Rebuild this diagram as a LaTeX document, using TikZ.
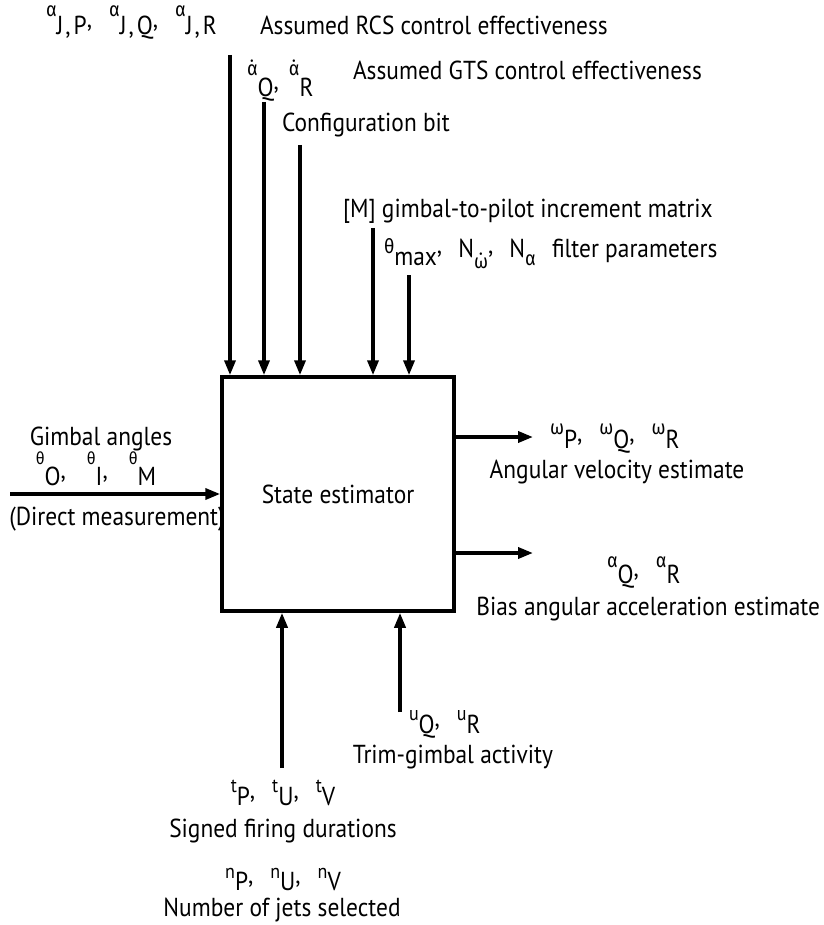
\documentclass[tikz,border=0pt]{standalone}
\usepackage{fontspec}
\setmainfont{PT Sans}[FakeStretch=0.9]
\newfontfamily\grk{Fira Sans}[FakeStretch=0.9]
\usetikzlibrary{arrows.meta}
\newcommand\gsm[1]{{\fontsize{20}{20}\selectfont\grk #1}}
\newcommand\gsn[1]{{\fontsize{17}{17}\selectfont\grk #1}}
\newcommand\lsm[1]{{\fontsize{20}{20}\selectfont #1}}
\newcommand\cmm{\raisebox{7pt}{,}\hspace{17pt}}
\newcommand\jc{\hspace{2pt},\hspace{3pt}}
\tikzset{
  lbl/.style={inner sep=0pt, outer sep=0pt, font=\fontsize{26}{30}\selectfont},
  arr/.style={line width=3.5pt, -{Triangle[length=15pt,width=11pt]}},
  estbox/.style={draw, line width=3.5pt, minimum width=232pt, minimum height=234pt, inner sep=0pt, font=\fontsize{26}{30}\selectfont}
}
\begin{document}
\begin{tikzpicture}[x=1pt,y=-1pt]
\useasboundingbox (0,0) rectangle (823,925);
% box
\node[estbox] (est) at (338,494) {State estimator};
% top labels
\node[lbl, anchor=base west] (r1s) at (46,35) {\raisebox{18pt}{\gsm{α}}J\jc P\cmm\raisebox{18pt}{\gsm{α}}J\jc Q\cmm\raisebox{18pt}{\gsm{α}}J\jc R};
\node[lbl, anchor=base west] (r1t) at (260,35) {Assumed RCS control effectiveness};
\node[lbl, anchor=base west] (r2s) at (247,97) {\raisebox{21pt}{\gsm{α^^^^0307}}Q\raisebox{7pt}{,}\hspace{10pt}\raisebox{21pt}{\gsm{α^^^^0307}}R};
\node[lbl, anchor=base west] (r2t) at (353,80) {Assumed GTS control effectiveness};
\node[lbl, anchor=base west] (r3) at (282,132) {Configuration bit};
\node[lbl, anchor=base west] (r4) at (343,218) {[M] gimbal-to-pilot increment matrix};
\node[lbl, anchor=base west] (r5s) at (384,257) {\raisebox{4pt}{\gsm{θ}}\raisebox{-8pt}{max}\raisebox{4pt}{,}\hspace{16pt}N\raisebox{-11pt}{\gsm{ω^^^^0307}}\raisebox{4pt}{,}\hspace{16pt}N\raisebox{-8pt}{\gsm{α}}};
\node[lbl, anchor=base west] (r5t) at (552,257) {filter parameters};
% left labels
\node[lbl, anchor=base] (l1) at (101,445) {Gimbal angles};
\node[lbl, anchor=base] (l2) at (96,485) {\raisebox{21pt}{\gsn{θ}}O\raisebox{7pt}{,}\hspace{21pt}\raisebox{21pt}{\gsn{θ}}I\raisebox{7pt}{,}\hspace{21pt}\raisebox{21pt}{\gsn{θ}}M};
\node[lbl, anchor=base] (l3) at (117,525) {(Direct measurement)};
% right labels
\node[lbl, anchor=base west] (o1s) at (550,448) {\raisebox{14pt}{\gsm{ω}}P\cmm\raisebox{14pt}{\gsm{ω}}Q\cmm\raisebox{14pt}{\gsm{ω}}R};
\node[lbl, anchor=base] (o1t) at (617,478) {Angular velocity estimate};
\node[lbl, anchor=base west] (o2s) at (607,583) {\raisebox{16pt}{\gsm{α}}Q\cmm\raisebox{16pt}{\gsm{α}}R};
\node[lbl, anchor=base east] (o2t) at (820,615) {Bias angular acceleration estimate};
% bottom labels
\node[lbl, anchor=base west] (b1s) at (409,733) {\raisebox{13pt}{\lsm{u}}Q\cmm\raisebox{13pt}{\lsm{u}}R};
\node[lbl, anchor=base] (b1t) at (453,763) {Trim-gimbal activity};
\node[lbl, anchor=base] (b2s) at (283,805) {\raisebox{13pt}{\lsm{t}}P\cmm\raisebox{13pt}{\lsm{t}}U\cmm\raisebox{13pt}{\lsm{t}}V};
\node[lbl, anchor=base] (b2t) at (283,837) {Signed firing durations};
\node[lbl, anchor=base] (b3s) at (283,890) {\raisebox{12pt}{\lsm{n}}P\cmm\raisebox{12pt}{\lsm{n}}U\cmm\raisebox{12pt}{\lsm{n}}V};
\node[lbl, anchor=base] (b3t) at (282,916) {Number of jets selected};
% arrow start points
\coordinate (a1) at (230,55);
\coordinate (a2) at (264,102);
\coordinate (a3) at (300,145);
\coordinate (a4) at (373,228);
\coordinate (a5) at (409,275);
\coordinate (gin) at (10,494);
\coordinate (o1) at (533,437);
\coordinate (o2) at (533,553);
\coordinate (b1) at (282,768);
\coordinate (b2) at (400,712);
% arrows
\foreach \c in {a1,a2,a3,a4,a5} \draw[arr] (\c) -- (\c |- est.north);
\draw[arr] (gin) -- (est.west);
\draw[arr] (o1 -| est.east) -- (o1);
\draw[arr] (o2 -| est.east) -- (o2);
\draw[arr] (b1) -- (b1 |- est.south);
\draw[arr] (b2) -- (b2 |- est.south);
\end{tikzpicture}
\end{document}
